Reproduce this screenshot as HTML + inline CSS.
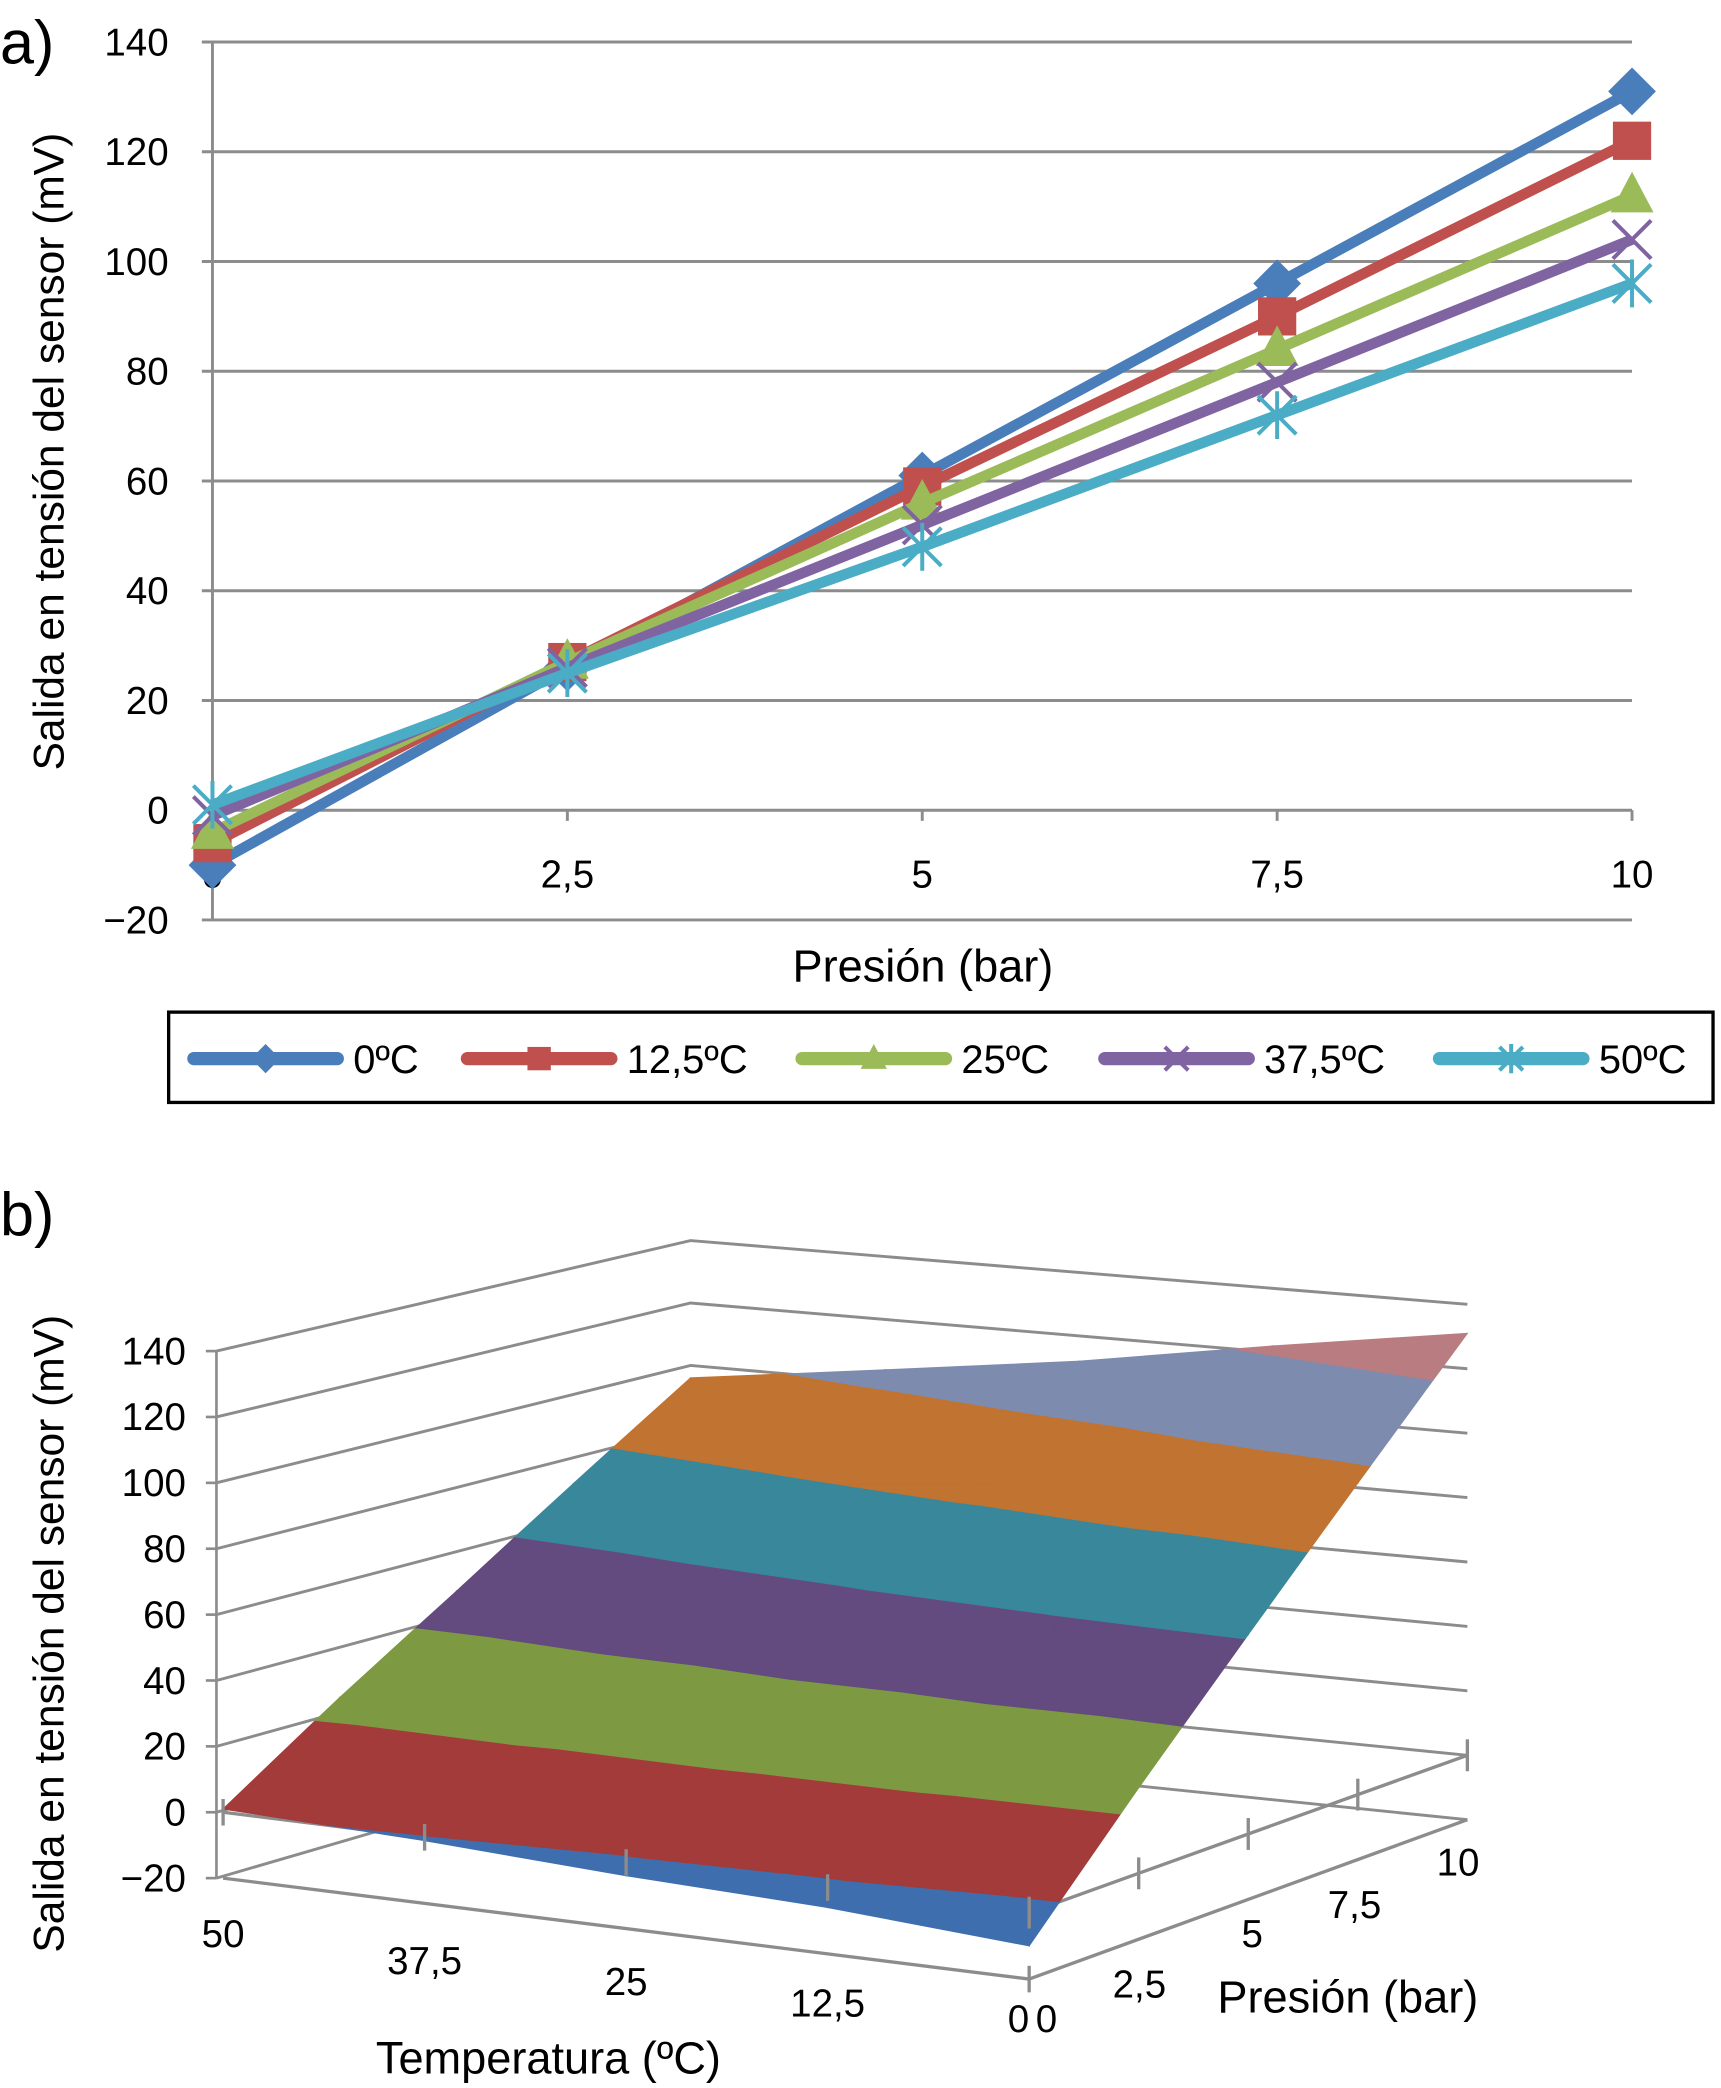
<!DOCTYPE html>
<html><head><meta charset="utf-8"><style>
html,body{margin:0;padding:0;background:#fff;}
svg{display:block;font-family:"Liberation Sans",sans-serif;}
</style></head><body>
<svg id="root" xmlns="http://www.w3.org/2000/svg" width="1721" height="2088" viewBox="0 0 1296 1572" preserveAspectRatio="none">
<text x="0" y="48" font-size="46">a)</text>
<text x="0" y="930" font-size="46">b)</text>
<g id="ca"></g>
<g id="cb"></g>
</svg>
<script>
// ---- data ----
const pressures = [0, 2.5, 5, 7.5, 10];
const pressureLabels = ["0", "2,5", "5", "7,5", "10"];
const temps = [0, 12.5, 25, 37.5, 50];
const seriesNames = ["0ºC", "12,5ºC", "25ºC", "37,5ºC", "50ºC"];
const s0 = [-10, 26, 61, 96, 131];
const s125 = [-6, 27, 59, 90, 122];
const s25 = [-4, 27, 56, 84, 112];
const s375 = [-1, 26, 52, 78, 104];
const s50 = [1, 25, 48, 72, 96];
const yTicks = [-20, 0, 20, 40, 60, 80, 100, 120, 140];
const yTickLabels = ["\u221220", "0", "20", "40", "60", "80", "100", "120", "140"];
const tempLabels = ["0", "12,5", "25", "37,5", "50"];
const bandEdges = [-20, 0, 20, 40, 60, 80, 100, 120, 140];

const series = [s0, s125, s25, s375, s50];
const colors = ["#4a7ebb", "#c0504d", "#9bbb59", "#8064a2", "#4bacc6"];
const markers = ["diamond", "square", "triangle", "x", "star"];
const bandColors = ["#3e6eae", "#a33b3b", "#7d9a43", "#634a7f", "#38879a", "#c17331", "#7d8cae", "#b97c80"];
const NS = "http://www.w3.org/2000/svg";
const FS = 29;
function mk(tag, attrs, parent) {
  const e = document.createElementNS(NS, tag);
  for (const k in attrs) e.setAttribute(k, attrs[k]);
  parent.appendChild(e);
  return e;
}
// ---- chart a ----
const ca = document.getElementById('ca');
const X0 = 160, X1 = 1229, Y0 = 610, YS = (694 - 33) / 160;
function xa(p) { return X0 + (p - pressures[0]) / (pressures[pressures.length - 1] - pressures[0]) * (X1 - X0); }
function ya(v) { return Y0 - v * YS; }
yTicks.forEach((t, i) => {
  if (t !== 0) {
    const g = mk('line', {x1: X0 - 8, x2: X1, y1: ya(t), y2: ya(t), stroke: '#8c8c8c', 'stroke-width': 2.2}, ca);
    
    
  }
  const tl = mk('text', {x: 127, y: ya(t) + 10, 'font-size': FS, 'text-anchor': 'end'}, ca);
  tl.textContent = yTickLabels[i];
  
  
});
const yax = mk('line', {x1: X0, x2: X0, y1: ya(140), y2: ya(-20), stroke: '#8c8c8c', 'stroke-width': 2.2}, ca);


const xax = mk('line', {x1: X0, x2: X1, y1: ya(0), y2: ya(0), stroke: '#8c8c8c', 'stroke-width': 2.2}, ca);


pressures.forEach((p, i) => {
  const tk = mk('line', {x1: xa(p), x2: xa(p), y1: ya(0), y2: ya(0) + 8, stroke: '#8c8c8c', 'stroke-width': 2.2}, ca);
  
  
  const tl = mk('text', {x: xa(p), y: 668, 'font-size': FS, 'text-anchor': 'middle'}, ca);
  tl.textContent = pressureLabels[i];
  
  
});
const xt = mk('text', {x: 695, y: 739, 'font-size': 34, 'text-anchor': 'middle'}, ca);
xt.textContent = 'Presión (bar)';


const yt = mk('text', {x: 0, y: 0, 'font-size': 32, 'text-anchor': 'middle', transform: 'translate(48,340) rotate(-90)'}, ca);
yt.textContent = 'Salida en tensión del sensor (mV)';



function marker(type, x, y, col, sz, parent) {
  let e;
  const s = sz;
  if (type === 'diamond') e = mk('polygon', {points: `${x},${y - s} ${x + s},${y} ${x},${y + s} ${x - s},${y}`, fill: col}, parent);
  else if (type === 'square') e = mk('rect', {x: x - s * 0.8, y: y - s * 0.8, width: s * 1.6, height: s * 1.6, fill: col}, parent);
  else if (type === 'triangle') e = mk('polygon', {points: `${x},${y - s} ${x + s * 0.9},${y + s * 0.7} ${x - s * 0.9},${y + s * 0.7}`, fill: col}, parent);
  else if (type === 'x') e = mk('path', {d: `M${x - s * 0.8},${y - s * 0.8}L${x + s * 0.8},${y + s * 0.8}M${x + s * 0.8},${y - s * 0.8}L${x - s * 0.8},${y + s * 0.8}`, stroke: col, 'stroke-width': 3}, parent);
  else e = mk('path', {d: `M${x - s * 0.8},${y - s * 0.8}L${x + s * 0.8},${y + s * 0.8}M${x + s * 0.8},${y - s * 0.8}L${x - s * 0.8},${y + s * 0.8}M${x},${y - s}L${x},${y + s}`, stroke: col, 'stroke-width': 3}, parent);
  return e;
}
series.forEach((vals, si) => {
  const g = mk('g', {}, ca);
  
  
  const pts = vals.map((v, i) => xa(pressures[i]) + ',' + ya(v)).join(' ');
  const ln = mk('polyline', {points: pts, fill: 'none', stroke: colors[si], 'stroke-width': 8, 'stroke-linejoin': 'round'}, g);
  
  
  vals.forEach((v, i) => {
    const m = marker(markers[si], xa(pressures[i]), ya(v), colors[si], 18, g);
    
    
  });
});
// legend
const lg = mk('g', {}, ca);


const lb = mk('rect', {x: 127, y: 762, width: 1163, height: 68, fill: '#fff', stroke: '#000', 'stroke-width': 2.5}, lg);


const legX = [142, 348, 600, 828, 1080];
seriesNames.forEach((n, i) => {
  const e = mk('g', {}, lg);
  
  
  mk('line', {x1: legX[i] + 4, x2: legX[i] + 112, y1: 797, y2: 797, stroke: colors[i], 'stroke-width': 10, 'stroke-linecap': 'round'}, e);
  marker(markers[i], legX[i] + 58, 797, colors[i], 11, e);
  const t = mk('text', {x: legX[i] + 124, y: 808, 'font-size': 30}, e);
  t.textContent = n;
});
// ---- chart b ----
const cb = document.getElementById('cb');
function bil(a00, a10, a01, a11, u, w) { return a00 * (1 - u) * (1 - w) + a10 * u * (1 - w) + a01 * (1 - u) * w + a11 * u * w; }
function proj(T, P, V) {
  const u = (50 - T) / 50, w = P / 10;
  const x = bil(168, 775, 520, 1105, u, w);
  const yf = bil(1414, 1490, 1310, 1370, u, w);
  const sc = bil(49.6, 50, 47, 48.5, u, w) / 20;
  return [x, yf - (V + 20) * sc];
}
function yLeft(v) { return proj(50, 0, v)[1]; }
yTicks.forEach(t => {
  const a = proj(50, 0, t), b = proj(50, 10, t), c = proj(0, 10, t);
  const l = mk('polyline', {points: `${163},${a[1]} ${b[0]},${b[1]} ${c[0]},${c[1]}`, fill: 'none', stroke: '#8c8c8c', 'stroke-width': 2.2}, cb);
  
  
});
const vax = mk('line', {x1: 163, x2: 163, y1: yLeft(140), y2: yLeft(-20), stroke: '#8c8c8c', 'stroke-width': 2}, cb);


yTicks.forEach((t, i) => {
  const tk = mk('line', {x1: 155, x2: 163, y1: yLeft(t), y2: yLeft(t), stroke: '#8c8c8c', 'stroke-width': 2}, cb);
  
  
  const tl = mk('text', {x: 140, y: yLeft(t) + 10, 'font-size': FS, 'text-anchor': 'end'}, cb);
  tl.textContent = yTickLabels[i];
  
  
});
[-20, 0].forEach(lv => {
  const a = proj(50, 0, lv), b = proj(0, 0, lv), c = proj(0, 10, lv);
  const l = mk('polyline', {points: `${a[0]},${a[1]} ${b[0]},${b[1]} ${c[0]},${c[1]}`, fill: 'none', stroke: '#8c8c8c', 'stroke-width': 2.5}, cb);
  
  
});
function clipPoly(poly, lim, above) {
  const out = [];
  for (let i = 0; i < poly.length; i++) {
    const A = poly[i], B = poly[(i + 1) % poly.length];
    const ina = above ? A.v >= lim : A.v <= lim, inb = above ? B.v >= lim : B.v <= lim;
    if (ina) out.push(A);
    if (ina !== inb) {
      const f = (lim - A.v) / (B.v - A.v);
      out.push({T: A.T + f * (B.T - A.T), P: A.P + f * (B.P - A.P), v: lim});
    }
  }
  return out;
}
const sg = mk('g', {}, cb);


for (let i = 0; i < temps.length - 1; i++) {
  for (let j = 0; j < pressures.length - 1; j++) {
    const c = (ti, pj) => ({T: temps[ti], P: pressures[pj], v: series[ti][pj]});
    const tris = [[c(i, j), c(i + 1, j), c(i + 1, j + 1)], [c(i, j), c(i + 1, j + 1), c(i, j + 1)]];
    tris.forEach(tri => {
      for (let b = 0; b < bandEdges.length - 1; b++) {
        let p = clipPoly(tri, bandEdges[b], true);
        if (p.length < 3) continue;
        p = clipPoly(p, bandEdges[b + 1], false);
        if (p.length < 3) continue;
        const pts = p.map(q => proj(q.T, q.P, q.v).join(',')).join(' ');
        const poly = mk('polygon', {points: pts, fill: bandColors[b], stroke: bandColors[b], 'stroke-width': 0.8}, sg);
        
        
      }
    });
  }
}
const tLab = [[775, 1530], [617, 1518], [463, 1502], [313, 1486], [163, 1466]];
temps.forEach((T, i) => {
  const a = proj(T, 0, 0);
  const tk = mk('line', {x1: a[0], x2: a[0], y1: a[1] - 10, y2: a[1] + 10, stroke: '#8c8c8c', 'stroke-width': 2.5}, cb);
  
  
  const tl = mk('text', {x: a[0] - (T === 0 ? 8 : 0), y: tLab[i][1], 'font-size': FS, 'text-anchor': 'middle'}, cb);
  tl.textContent = tempLabels[i];
  
  
});
const bt = proj(0, 0, -20);
const btk = mk('line', {x1: bt[0], x2: bt[0], y1: bt[1] - 10, y2: bt[1] + 10, stroke: '#8c8c8c', 'stroke-width': 2.5}, cb);


const pLab = [[788, 1530], [858, 1504], [943, 1466], [1020, 1444], [1098, 1412]];
pressures.forEach((P, i) => {
  const a = proj(0, P, 0);
  const tk = mk('line', {x1: a[0], x2: a[0], y1: a[1] - 12, y2: a[1] + 12, stroke: '#8c8c8c', 'stroke-width': 2.5}, cb);
  
  
  const tl = mk('text', {x: pLab[i][0], y: pLab[i][1], 'font-size': FS, 'text-anchor': 'middle'}, cb);
  tl.textContent = pressureLabels[i];
  
  
});
const pt = mk('text', {x: 1015, y: 1515, 'font-size': 34, 'text-anchor': 'middle'}, cb);
pt.textContent = 'Presión (bar)';


const tt = mk('text', {x: 413, y: 1561, 'font-size': 34, 'text-anchor': 'middle'}, cb);
tt.textContent = 'Temperatura (ºC)';


const zt = mk('text', {x: 0, y: 0, 'font-size': 32, 'text-anchor': 'middle', transform: 'translate(48,1230) rotate(-90)'}, cb);
zt.textContent = 'Salida en tensión del sensor (mV)';


</script>
</body></html>
